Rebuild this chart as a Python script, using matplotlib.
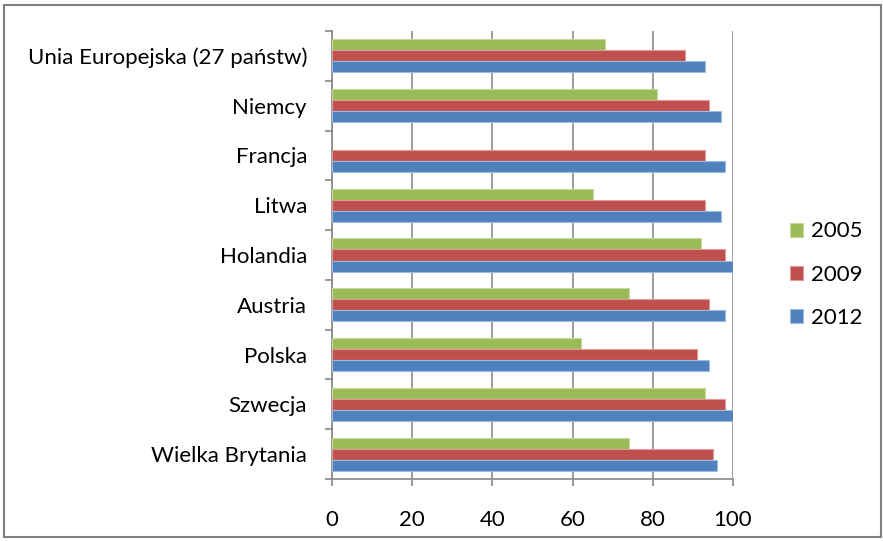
import matplotlib.pyplot as plt
import numpy as np

plt.rcParams['font.family'] = ['Lato', 'DejaVu Sans']

kraje = ['Unia Europejska (27 państw)', 'Niemcy', 'Francja', 'Litwa', 'Holandia',
         'Austria', 'Polska', 'Szwecja', 'Wielka Brytania']
lata = ['2005', '2009', '2012']
v2005 = [68, 81, np.nan, 65, 92, 74, 62, 93, 74]
v2009 = [88, 94, 93, 93, 98, 94, 91, 98, 95]
v2012 = [93, 97, 98, 97, 100, 98, 94, 100, 96]
kolory = ['#9BBB59', '#C0504D', '#4F81BD']
krawedzie = ['#C4DA9B', '#DC9A98', '#9DBBE0']

fig = plt.figure(figsize=(8.83, 5.41), dpi=100)
ax = fig.add_axes([332 / 883, 1 - 479 / 541, 401 / 883, 448 / 541])

n = len(kraje)
pos = np.arange(n)[::-1]  # first country at the top
h = 0.222
for i, (vals, c, e) in enumerate(zip([v2005, v2009, v2012], kolory, krawedzie)):
    ax.barh(pos + h * (1 - i), vals, height=h, color=c, edgecolor=e,
            linewidth=0.8, label=lata[i], zorder=3)

ax.set_xlim(0, 100)
ax.set_ylim(-0.5, n - 0.5)
ax.set_xticks(np.arange(0, 101, 20))
ax.set_yticks(pos)
ax.set_yticklabels(kraje)
ax.set_yticks(np.arange(-0.5, n, 1), minor=True)
ax.tick_params(axis='y', which='major', length=0, pad=18, labelsize=16)
ax.tick_params(axis='y', which='minor', length=5, color='#888888', width=1.2)
ax.tick_params(axis='x', length=5, color='#888888', width=1.2, pad=17, labelsize=16)
ax.grid(axis='x', color='#8c8c8c', linewidth=1.2, zorder=0)
for s in ['top', 'right']:
    ax.spines[s].set_visible(False)
for s in ['left', 'bottom']:
    ax.spines[s].set_color('#888888')
    ax.spines[s].set_linewidth(1.2)

ax.legend(loc='center left', bbox_to_anchor=(770 / 883, 0.492), bbox_transform=fig.transFigure,
          frameon=False, fontsize=16, handlelength=0.6, handleheight=0.6,
          handletextpad=0.35, labelspacing=1.05)

# outer frame of the chart area
fig.patches.append(plt.Rectangle((4 / 883, 4 / 541), 877 / 883, 532 / 541,
                                 transform=fig.transFigure, fill=False,
                                 edgecolor='#7f7f7f', linewidth=1.5))

plt.savefig('out.png', dpi=100)
